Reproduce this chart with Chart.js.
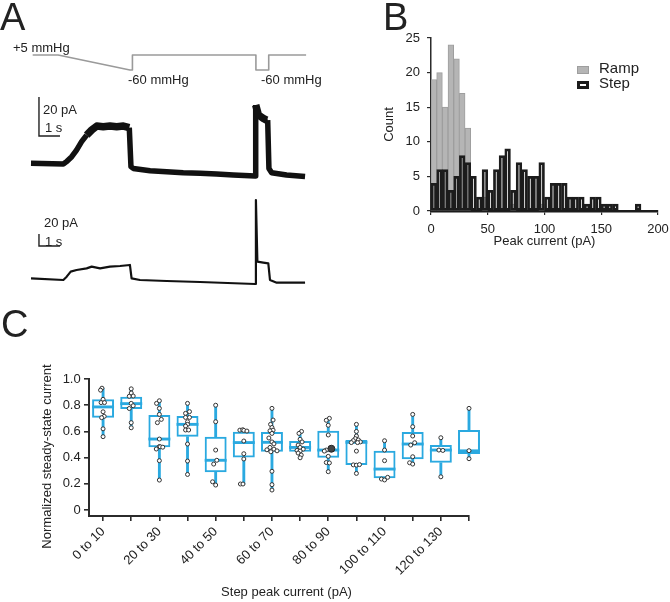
<!DOCTYPE html>
<html>
<head>
<meta charset="utf-8">
<script src="https://cdn.jsdelivr.net/npm/chart.js@4.4.0/dist/chart.umd.min.js"></script>
<style>
  html, body { margin: 0; padding: 0; background: #fff; }
  #fig { position: relative; width: 670px; height: 602px; overflow: hidden;
         font-family: 'Liberation Sans', Arial, Helvetica, sans-serif; color: #222; }
  #fig canvas { position: absolute; }
  .t { position: absolute; font-size: 13px; line-height: 1; white-space: nowrap; }
  .panel { position: absolute; font-size: 38px; line-height: 1; }
  .key { position: absolute; box-sizing: border-box; }
</style>
</head>
<body>
<div id="fig">
  <canvas id="traces" width="340" height="300" style="left:0px;top:0px"></canvas>
  <canvas id="hist" width="300" height="240" style="left:380px;top:20px"></canvas>
  <canvas id="boxes" width="670" height="262" style="left:0px;top:340px"></canvas>

  <div class="panel" style="left:0px;top:-2px">A</div>
  <div class="panel" style="left:383px;top:-2px">B</div>
  <div class="panel" style="left:1px;top:305px">C</div>

  <div class="t" style="left:13px;top:41px">+5 mmHg</div>
  <div class="t" style="left:128px;top:73px">-60 mmHg</div>
  <div class="t" style="left:261px;top:73px">-60 mmHg</div>
  <div class="t" style="left:43px;top:103px">20 pA</div>
  <div class="t" style="left:45px;top:121px">1 s</div>
  <div class="t" style="left:44px;top:216px">20 pA</div>
  <div class="t" style="left:45px;top:235px">1 s</div>

  <div class="key" style="left:577px;top:66px;width:12px;height:8px;background:#b5b5b5;border:1px solid #9e9e9e"></div>
  <div class="key" style="left:577px;top:81px;width:12px;height:8px;background:#fff;border:3px solid #1c1c1c"></div>
  <div class="t" style="left:599px;top:60px;font-size:15px">Ramp</div>
  <div class="t" style="left:599px;top:75px;font-size:15px">Step</div>

  <div class="t" style="left:-64.5px;top:449.5px;width:220px;text-align:center;transform:rotate(-90deg)">Normalized steady-state current</div>
  <div class="t" style="left:186.5px;top:585px;width:200px;text-align:center">Step peak current (pA)</div>
</div>
<script>
// ---------- Panel A: example recordings ----------
// time in s, current in pA, pressure in mmHg
const PRESSURE_T = [0.08, 1.29, 4.71, 4.83, 4.83, 10.71, 10.71, 11.32, 11.32, 13.1];
const PRESSURE_MMHG = [5, 5, -60, -60, 5, 5, -60, -60, 5, 5];

const TRACE1_T = [0, 1.54, 1.70, 1.94, 2.17, 2.41, 2.65, 2.89, 3.13, 3.44, 3.76, 4.08, 4.40, 4.68,
  4.76, 4.87, 5.67, 6.46, 7.25, 8.05, 8.84, 9.63, 10.67, 10.70, 10.83, 11.06, 11.22, 11.27,
  11.33, 11.46, 12.17, 13.05];
const TRACE1_PA = [7.0, 6.7, 7.9, 10.4, 13.8, 18.1, 21.5, 24.1, 26.1, 25.8, 26.1, 25.8, 26.1, 25.3,
  5.3, 4.4, 3.2, 2.7, 2.2, 1.9, 1.5, 1.0, 0.5, 36.9, 31.8, 30.1, 29.2, 29.2,
  4.4, 2.2, 1.0, 0.2];

const TRACE2_T = [0, 1.54, 1.70, 1.89, 2.17, 2.65, 2.89, 3.29, 3.76, 4.24, 4.71, 4.79, 5.19, 6.46,
  8.05, 10.67, 10.71, 10.78, 11.06, 11.30, 11.38, 11.70, 13.05];
const TRACE2_PA = [9.4, 6.7, 12.2, 20.6, 23.3, 26.1, 28.9, 26.1, 28.9, 30.0, 31.7, 9.4, 6.7, 5.0,
  3.3, 0, 140, 37.2, 35.6, 34.4, 6.7, 2.2, 2.2];

const SCALE_BAR_PA = 20;
const SCALE_BAR_S = 1;

// ---------- Panel B: peak current histogram (5 pA bins) ----------
const HIST_BIN_START = [0, 5, 10, 15, 20, 25, 30, 35, 40, 45, 50, 55, 60, 65, 70, 75, 80, 85, 90, 95,
  100, 105, 110, 115, 120, 125, 130, 135, 140, 145, 150, 155, 160, 165, 170, 175, 180, 185, 190, 195];
const RAMP_COUNTS = [19, 20, 15, 24, 22, 17, 12, 0, 0, 2, 0, 0, 0, 0, 1, 0, 0, 0, 0, 1,
  0, 0, 0, 0, 0, 0, 0, 0, 0, 0, 0, 0, 0, 0, 0, 0, 0, 0, 0, 0];
const STEP_COUNTS = [4, 6, 6, 3, 5, 8, 7, 5, 2, 6, 3, 6, 8, 9, 3, 7, 6, 5, 5, 7,
  2, 4, 4, 4, 2, 2, 2, 1, 2, 2, 1, 1, 1, 0, 0, 0, 1, 0, 0, 0];
const HIST_X_TICKS = [0, 50, 100, 150, 200];
const HIST_Y_TICKS = [0, 5, 10, 15, 20, 25];

// ---------- Panel C: normalized steady-state current by step peak current ----------
const C_CATEGORIES = ['0 to 10', '10 to 20', '20 to 30', '30 to 40', '40 to 50', '50 to 60', '60 to 70',
  '70 to 80', '80 to 90', '90 to 100', '100 to 110', '110 to 120', '120 to 130', '130 to 140'];
const C_MIN = [0.56, 0.624, 0.229, 0.272, 0.191, 0.199, 0.153, 0.394, 0.293, 0.28, 0.23, 0.351, 0.254, 0.392];
const C_Q1 = [0.705, 0.771, 0.48, 0.56, 0.288, 0.402, 0.445, 0.445, 0.40, 0.344, 0.242, 0.387, 0.361, 0.427];
const C_MEDIAN = [0.787, 0.812, 0.542, 0.654, 0.38, 0.515, 0.517, 0.478, 0.458, 0.517, 0.313, 0.504, 0.458, 0.452];
const C_Q3 = [0.845, 0.865, 0.725, 0.718, 0.56, 0.598, 0.595, 0.527, 0.605, 0.534, 0.453, 0.595, 0.496, 0.611];
const C_MAX = [0.93, 0.925, 0.834, 0.814, 0.80, 0.613, 0.776, 0.60, 0.70, 0.654, 0.529, 0.73, 0.552, 0.776];
const C_POINTS = [
  [0.93, 0.915, 0.845, 0.82, 0.82, 0.75, 0.715, 0.705, 0.62, 0.56],
  [0.925, 0.893, 0.868, 0.87, 0.814, 0.796, 0.775, 0.667, 0.628],
  [0.834, 0.814, 0.776, 0.73, 0.692, 0.667, 0.542, 0.485, 0.483, 0.48, 0.466, 0.377, 0.229],
  [0.814, 0.751, 0.738, 0.707, 0.707, 0.674, 0.654, 0.641, 0.611, 0.611, 0.504, 0.374, 0.272],
  [0.80, 0.674, 0.458, 0.38, 0.351, 0.216, 0.191],
  [0.61, 0.613, 0.608, 0.603, 0.527, 0.43, 0.39, 0.199, 0.199],
  [0.776, 0.687, 0.654, 0.63, 0.61, 0.605, 0.585, 0.55, 0.52, 0.505, 0.478, 0.465, 0.46, 0.452, 0.445, 0.296, 0.194, 0.153],
  [0.60, 0.585, 0.54, 0.52, 0.496, 0.478, 0.465, 0.455, 0.45, 0.435, 0.42, 0.399],
  [0.70, 0.685, 0.647, 0.573, 0.458, 0.45, 0.41, 0.363, 0.36, 0.293],
  [0.654, 0.60, 0.565, 0.545, 0.535, 0.53, 0.52, 0.515, 0.515, 0.45, 0.345, 0.343, 0.347, 0.28],
  [0.529, 0.458, 0.377, 0.237, 0.23, 0.25],
  [0.73, 0.636, 0.565, 0.514, 0.496, 0.407, 0.361, 0.351],
  [0.552, 0.458, 0.455, 0.254],
  [0.776, 0.453, 0.392]
];
// horizontal scatter of each point, in category widths
const C_JITTER = [
  [-0.04, -0.09, 0, -0.07, 0.05, 0, 0.04, -0.05, 0, 0],
  [0, 0, -0.07, 0.07, 0, 0.07, -0.07, 0, 0],
  [0, -0.1, 0, 0, 0.07, -0.07, 0, 0, 0.03, 0.12, -0.11, 0, 0],
  [0, 0.07, -0.07, -0.07, 0.07, 0, 0, -0.07, -0.07, 0.04, 0, 0, 0],
  [0, 0, 0, 0.04, -0.07, -0.11, 0],
  [-0.14, -0.04, 0, 0.11, 0, 0, 0, -0.12, -0.03],
  [0, 0.04, -0.05, 0, 0.04, -0.07, 0, -0.11, 0, 0.07, -0.07, 0.07, -0.18, 0.18, -0.04, 0, 0, 0],
  [0.05, -0.04, 0, 0.07, -0.07, 0, 0.11, -0.11, 0, -0.07, 0.04, 0],
  [0.04, -0.07, 0, 0, -0.07, -0.14, 0, -0.07, 0.04, 0],
  [0, 0, 0, -0.04, 0.07, -0.11, 0.14, -0.18, 0.04, 0, -0.11, 0, 0.11, 0],
  [0, 0, 0, -0.11, 0, 0.11],
  [0, 0, 0, 0.07, -0.07, 0, -0.11, 0],
  [0, -0.07, 0.07, 0],
  [0, 0, 0]
];
// overlapping points drawn as one heavy dot (category index, value, jitter)
const C_CLUSTER = [[8, 0.468, 0.11]];
const C_Y_TICKS = [0, 0.2, 0.4, 0.6, 0.8, 1.0];
const C_Y_LABELS = ['0', '0.2', '0.4', '0.6', '0.8', '1.0'];

// ---------- shared look ----------
Chart.defaults.font.family = "'Liberation Sans', Arial, Helvetica, sans-serif";
Chart.defaults.font.size = 13;
Chart.defaults.color = '#222';
Chart.defaults.animation = false;
Chart.defaults.events = [];
Chart.defaults.plugins.legend.display = false;
Chart.defaults.plugins.tooltip.enabled = false;

const AXIS = '#2b2b2b';
const BLUE = '#2aa9e0';
const xy = (ts, vs) => ts.map((t, i) => ({x: t, y: vs[i]}));
const fixTicks = list => scale => { scale.ticks = list.map(v => ({value: v})); };

// ---------- Panel A ----------
new Chart(document.getElementById('traces'), {
  type: 'line',
  data: {
    datasets: [
      {data: xy(PRESSURE_T, PRESSURE_MMHG), yAxisID: 'yP', borderColor: '#9a9a9a', borderWidth: 1.6},
      {data: xy(TRACE1_T, TRACE1_PA), yAxisID: 'y1', borderColor: '#111', borderWidth: 5.5,
        segment: {borderWidth: c => (c.p0.parsed.y > 20 && c.p1.parsed.y > 20) ? 7.5 : 5.5}},
      {data: xy(TRACE2_T, TRACE2_PA), yAxisID: 'y2', borderColor: '#111', borderWidth: 2.2},
      {data: [{x: 0.38, y: 21 + SCALE_BAR_PA}, {x: 0.38, y: 21}, {x: 0.38 + SCALE_BAR_S, y: 21}],
        yAxisID: 'y1', borderColor: '#222', borderWidth: 1.4, borderJoinStyle: 'miter'},
      {data: [{x: 0.38, y: 63.3 + SCALE_BAR_PA}, {x: 0.38, y: 63.3}, {x: 0.38 + SCALE_BAR_S, y: 63.3}],
        yAxisID: 'y2', borderColor: '#222', borderWidth: 1.4, borderJoinStyle: 'miter'}
    ]
  },
  options: {
    responsive: false,
    layout: {padding: 0},
    elements: {point: {radius: 0}, line: {tension: 0, fill: false, borderJoinStyle: 'round', borderCapStyle: 'butt'}},
    scales: {
      x: {type: 'linear', display: false, min: -1.476, max: 14.714},
      y1: {type: 'linear', display: false, min: -63.08, max: 90.77},
      y2: {type: 'linear', display: false, min: -26.67, max: 473.3},
      yP: {type: 'linear', display: false, min: -1056.7, max: 243.3}
    }
  }
});

// ---------- Panel B ----------
new Chart(document.getElementById('hist'), {
  type: 'bar',
  data: {
    datasets: [
      {label: 'Step', order: 0, grouped: false,
        data: xy(HIST_BIN_START.map(b => b + 2.5), STEP_COUNTS),
        backgroundColor: 'rgba(0,0,0,0)', borderColor: '#1c1c1c', borderWidth: 2.1, borderSkipped: false,
        barPercentage: 1, categoryPercentage: 1},
      {label: 'Ramp', order: 1, grouped: false,
        data: xy(HIST_BIN_START.map(b => b + 2.5), RAMP_COUNTS),
        backgroundColor: '#b5b5b5', borderColor: '#9e9e9e', borderWidth: 1, borderSkipped: false,
        barPercentage: 1, categoryPercentage: 1}
    ]
  },
  options: {
    responsive: false,
    layout: {padding: {top: 18, right: 22, left: 0, bottom: 0}},
    scales: {
      x: {type: 'linear', min: 0, max: 200, offset: false,
        afterBuildTicks: fixTicks(HIST_X_TICKS),
        afterFit: s => { s.height = 49; },
        grid: {offset: false, drawOnChartArea: false, drawTicks: true, tickLength: 4, color: AXIS, lineWidth: 1.2},
        border: {display: true, color: '#1c1c1c', width: 2.5},
        ticks: {padding: 6.7, maxRotation: 0, autoSkip: false},
        title: {display: true, text: 'Peak current (pA)', padding: {top: 0, bottom: 10.7}}},
      y: {type: 'linear', min: 0, max: 25,
        afterBuildTicks: fixTicks(HIST_Y_TICKS),
        afterFit: s => { s.width = 51; },
        grid: {drawOnChartArea: false, drawTicks: true, tickLength: 4, color: AXIS, lineWidth: 1.2},
        border: {display: true, color: AXIS, width: 1.5},
        ticks: {padding: 7},
        title: {display: true, text: 'Count', padding: {top: 1.7, bottom: 0}}}
    }
  }
});

// ---------- Panel C ----------
const MEDIAN_HALF = 0.011;
const pts = [];
C_POINTS.forEach((vals, i) => vals.forEach((v, j) => pts.push({x: i + C_JITTER[i][j], y: v})));
const idx = C_CATEGORIES.map((_, i) => i);

new Chart(document.getElementById('boxes'), {
  type: 'bar',
  data: {
    datasets: [
      {type: 'scatter', order: 0, clip: false, data: pts, pointRadius: 2, pointBorderWidth: 1,
        pointBorderColor: '#333', pointBackgroundColor: '#fff'},
      {type: 'scatter', order: 0, clip: false, data: C_CLUSTER.map(c => ({x: c[0] + c[2], y: c[1]})),
        pointRadius: 3.5, pointBorderWidth: 1, pointBorderColor: '#222', pointBackgroundColor: '#444'},
      {order: 1, clip: false, grouped: false, barPercentage: 0.78, categoryPercentage: 1,
        data: idx.map(i => ({x: i, y: [C_MEDIAN[i] - MEDIAN_HALF, C_MEDIAN[i] + MEDIAN_HALF]})),
        backgroundColor: BLUE},
      {order: 2, clip: false, grouped: false, barPercentage: 0.78, categoryPercentage: 1,
        data: idx.map(i => ({x: i, y: [C_Q1[i], C_Q3[i]]})),
        backgroundColor: 'rgba(255,255,255,0)', borderColor: BLUE, borderWidth: 2, borderSkipped: false},
      {order: 3, clip: false, grouped: false, barThickness: 2.2,
        data: idx.map(i => ({x: i, y: [C_MIN[i], C_Q1[i]]})), backgroundColor: BLUE},
      {order: 3, clip: false, grouped: false, barThickness: 2.2,
        data: idx.map(i => ({x: i, y: [C_Q3[i], C_MAX[i]]})), backgroundColor: BLUE}
    ]
  },
  options: {
    responsive: false,
    layout: {padding: {top: 39, right: 201, left: 0, bottom: 0}},
    scales: {
      x: {type: 'linear', min: -0.5, max: C_CATEGORIES.length - 1, offset: false,
        afterBuildTicks: fixTicks(idx),
        afterFit: s => { s.height = 86; },
        grid: {offset: false, drawOnChartArea: false, drawTicks: true, tickLength: 5, color: AXIS, lineWidth: 1.6},
        border: {display: true, color: AXIS, width: 2},
        ticks: {padding: 3, autoSkip: false, minRotation: 45, maxRotation: 45,
          callback: v => (v % 2 === 0 ? C_CATEGORIES[v] : '')}},
      y: {type: 'linear', min: -0.045, max: 1.0,
        afterBuildTicks: fixTicks(C_Y_TICKS),
        afterFit: s => { s.width = 89; },
        grid: {drawOnChartArea: false, drawTicks: true, tickLength: 5, color: AXIS, lineWidth: 1.6},
        border: {display: true, color: AXIS, width: 2},
        ticks: {padding: 3.3, callback: v => C_Y_LABELS[C_Y_TICKS.indexOf(v)]}}
    }
  }
});
</script>
</body>
</html>
